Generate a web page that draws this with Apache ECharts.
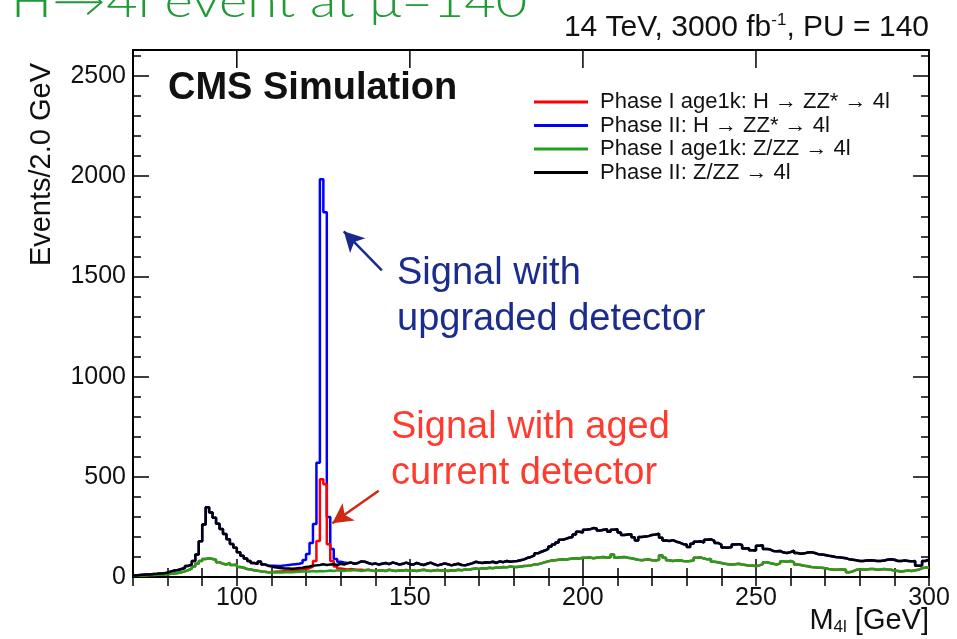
<!DOCTYPE html>
<html>
<head>
<meta charset="utf-8">
<script src="https://cdn.jsdelivr.net/npm/echarts@6/dist/echarts.min.js"></script>
<style>
  html, body { margin: 0; padding: 0; background: #fff; }
  #chart { width: 957px; height: 639px; }
</style>
</head>
<body>
<div id="chart"></div>
<script>
// ---- Data (1 GeV bins, lower edges 70..299 GeV) ----
const BIN_START = 70;
const BIN_WIDTH = 1;
const N_BINS = 230;

// Phase II: Z/ZZ -> 4l (black)
const phase2Bkg = [
  8, 10, 11, 12, 13, 15, 16, 18, 19, 21,
  28, 32, 35, 40, 45, 55, 63, 80, 112, 178,
  262, 348, 322, 296, 266, 240, 214, 188, 165, 146,
  124, 106, 92, 80, 70, 64, 76, 63, 56, 52,
  48, 46, 44, 42, 43, 41, 43, 45, 46, 50,
  52, 56, 58, 60, 64, 60, 62, 64, 60, 66,
  62, 68, 72, 66, 70, 78, 76, 70, 64, 68,
  62, 66, 70, 64, 72, 68, 62, 66, 72, 64,
  62, 70, 64, 60, 66, 72, 64, 58, 62, 68,
  64, 58, 62, 66, 60, 58, 64, 68, 76, 72,
  70, 74, 72, 76, 70, 78, 74, 80, 76, 78,
  80, 84, 88, 96, 100, 108, 118, 126, 132, 140,
  152, 162, 172, 186, 190, 196, 200, 212, 226, 222,
  236, 238, 244, 242, 232, 236, 238, 226, 236, 238,
  222, 210, 212, 214, 198, 182, 200, 202, 204, 210,
  212, 216, 196, 182, 180, 184, 176, 172, 164, 162,
  150, 166, 176, 178, 172, 186, 188, 180, 170, 162,
  147, 146, 150, 162, 164, 160, 142, 144, 134, 132,
  156, 158, 140, 138, 130, 128, 130, 122, 120, 124,
  132, 120, 116, 118, 122, 124, 120, 114, 112, 110,
  106, 104, 100, 98, 96, 94, 88, 86, 84, 80,
  80, 82, 84, 82, 80, 80, 82, 86, 88, 86,
  80, 80, 82, 80, 78, 80, 56, 58, 80, 86
];

// Phase II: H -> ZZ* -> 4l (blue, drawn on top of its background)
const phase2Sig = [
  8, 10, 11, 12, 13, 15, 16, 18, 19, 21,
  28, 32, 35, 40, 45, 55, 63, 80, 112, 178,
  262, 348, 322, 296, 266, 240, 214, 188, 165, 146,
  124, 106, 92, 80, 70, 66, 77, 64, 58, 56,
  56, 55, 56, 58, 60, 62, 64, 66, 70, 85,
  115, 170, 265, 570, 1985, 1820, 300, 140, 90, 76,
  72, 70, 72, 66, 70, 78, 76, 70, 64, 68,
  62, 66, 70, 64, 72, 68, 62, 66, 72, 64,
  62, 70, 64, 60, 66, 72, 64, 58, 62, 68,
  64, 58, 62, 66, 60, 58, 64, 68, 76, 72,
  70, 74, 72, 76, 70, 78, 74, 80, 76, 78,
  80, 84, 88, 96, 100, 108, 118, 126, 132, 140,
  152, 162, 172, 186, 190, 196, 200, 212, 226, 222,
  236, 238, 244, 242, 232, 236, 238, 226, 236, 238,
  222, 210, 212, 214, 198, 182, 200, 202, 204, 210,
  212, 216, 196, 182, 180, 184, 176, 172, 164, 162,
  150, 166, 176, 178, 172, 186, 188, 180, 170, 162,
  147, 146, 150, 162, 164, 160, 142, 144, 134, 132,
  156, 158, 140, 138, 130, 128, 130, 122, 120, 124,
  132, 120, 116, 118, 122, 124, 120, 114, 112, 110,
  106, 104, 100, 98, 96, 94, 88, 86, 84, 80,
  80, 82, 84, 82, 80, 80, 82, 86, 88, 86,
  80, 80, 82, 80, 78, 80, 56, 58, 80, 86
];

// Phase I age1k: Z/ZZ -> 4l (green)
const phase1Bkg = [
  6, 7, 8, 9, 10, 10, 11, 12, 13, 14,
  16, 18, 20, 24, 28, 34, 42, 52, 66, 80,
  90, 94, 90, 86, 74, 66, 62, 70, 60, 62,
  50, 46, 40, 37, 34, 31, 28, 26, 24, 23,
  22, 24, 22, 24, 25, 24, 25, 26, 27, 28,
  28, 30, 28, 30, 29, 30, 32, 30, 33, 32,
  30, 34, 32, 35, 33, 30, 34, 36, 32, 30,
  32, 34, 30, 36, 32, 30, 34, 32, 35, 30,
  32, 30, 34, 36, 32, 30, 33, 35, 32, 34,
  30, 34, 32, 36, 34, 38, 36, 40, 42, 40,
  44, 42, 46, 44, 48, 46, 50, 48, 52, 50,
  50, 52, 55, 56, 58, 62, 64, 68, 74, 78,
  82, 84, 86, 88, 86, 90, 92, 94, 92, 96,
  96, 98, 94, 96, 98, 100, 96, 98, 112, 96,
  98, 100, 96, 94, 90, 86, 84, 86, 88, 84,
  82, 86, 108, 96, 84, 80, 82, 84, 80, 78,
  80, 82, 96, 98, 92, 88, 90, 76, 74, 70,
  66, 64, 62, 64, 66, 62, 60, 56, 58, 54,
  58, 64, 74, 70, 66, 62, 68, 78, 76, 80,
  74, 62, 60, 56, 54, 50, 48, 46, 46, 44,
  40, 38, 36, 38, 38, 36, 24, 28, 36, 38,
  38, 38, 40, 40, 36, 38, 40, 38, 36, 32,
  30, 28, 30, 32, 30, 34, 36, 44, 48, 48
];

// Phase I age1k: H -> ZZ* -> 4l (red, drawn on top of its background)
const phase1Sig = [
  6, 7, 8, 9, 10, 10, 11, 12, 13, 14,
  16, 18, 20, 24, 28, 34, 42, 52, 66, 80,
  90, 94, 90, 86, 74, 66, 62, 70, 60, 62,
  50, 46, 40, 37, 34, 31, 28, 26, 24, 23,
  26, 28, 28, 30, 31, 32, 33, 35, 38, 40,
  44, 52, 80, 180, 488, 463, 163, 80, 52, 42,
  40, 38, 40, 38, 36, 36, 34, 36, 32, 30,
  32, 34, 30, 36, 32, 30, 34, 32, 35, 30,
  32, 30, 34, 36, 32, 30, 33, 35, 32, 34,
  30, 34, 32, 36, 34, 38, 36, 40, 42, 40,
  44, 42, 46, 44, 48, 46, 50, 48, 52, 50,
  50, 52, 55, 56, 58, 62, 64, 68, 74, 78,
  82, 84, 86, 88, 86, 90, 92, 94, 92, 96,
  96, 98, 94, 96, 98, 100, 96, 98, 112, 96,
  98, 100, 96, 94, 90, 86, 84, 86, 88, 84,
  82, 86, 108, 96, 84, 80, 82, 84, 80, 78,
  80, 82, 96, 98, 92, 88, 90, 76, 74, 70,
  66, 64, 62, 64, 66, 62, 60, 56, 58, 54,
  58, 64, 74, 70, 66, 62, 68, 78, 76, 80,
  74, 62, 60, 56, 54, 50, 48, 46, 46, 44,
  40, 38, 36, 38, 38, 36, 24, 28, 36, 38,
  38, 38, 40, 40, 36, 38, 40, 38, 36, 32,
  30, 28, 30, 32, 30, 34, 36, 44, 48, 48
];

const seriesNames = [
  'Phase I age1k: H \u2192 ZZ* \u2192 4l',
  'Phase II: H \u2192 ZZ* \u2192 4l',
  'Phase I age1k: Z/ZZ \u2192 4l',
  'Phase II: Z/ZZ \u2192 4l'
];

const xLabelValues = [100, 150, 200, 250, 300];
const yLabelValues = [0, 500, 1000, 1500, 2000, 2500];
const X_MIN = 70, X_MAX = 300, Y_MIN = 0, Y_MAX = 2630;

// bin lower edges
const binEdges = [];
for (let i = 0; i < N_BINS; i++) binEdges.push(BIN_START + i * BIN_WIDTH);

function toSteps(values) {
  const d = values.map((v, i) => [binEdges[i], v]);
  d.push([binEdges[N_BINS - 1] + BIN_WIDTH, values[values.length - 1]]);
  return d;
}

const FONT = 'Liberation Sans, Arial, Helvetica, sans-serif';
const INK = '#111';
const X_LONG = 18, X_SHORT = 9, Y_LONG = 16, Y_SHORT = 8;

function xAxisDef(position, longTicks, labels) {
  return {
    type: 'value', position: position, min: X_MIN, max: X_MAX, interval: 10,
    axisLine: { show: false }, splitLine: { show: false },
    axisTick: longTicks
      ? { show: true, inside: true, length: X_LONG, customValues: xLabelValues, lineStyle: { color: '#000', width: 1.5 } }
      : { show: true, inside: true, length: X_SHORT, lineStyle: { color: '#000', width: 1.5 } },
    axisLabel: labels
      ? { show: true, customValues: xLabelValues, margin: 9, fontSize: 25, fontFamily: FONT, color: INK,
          formatter: function (v) { return String(v); } }
      : { show: false }
  };
}
function yAxisDef(position, longTicks, labels) {
  return {
    type: 'value', position: position, min: Y_MIN, max: Y_MAX, interval: longTicks ? 500 : 100,
    axisLine: { show: false }, splitLine: { show: false },
    axisTick: longTicks
      ? { show: true, inside: true, length: Y_LONG, customValues: yLabelValues, lineStyle: { color: '#000', width: 1.5 } }
      : { show: true, inside: true, length: Y_SHORT, lineStyle: { color: '#000', width: 1.5 } },
    axisLabel: labels
      ? { show: true, customValues: yLabelValues, margin: 7, fontSize: 25, fontFamily: FONT, color: INK,
          formatter: function (v) { return String(v); } }
      : { show: false }
  };
}

function histSeries(name, values, color, z, extra) {
  return Object.assign({
    name: name, type: 'line', step: 'end', data: toSteps(values),
    symbol: 'none', showSymbol: false, xAxisIndex: 0, yAxisIndex: 0,
    lineStyle: { color: color, width: 2.5 }, itemStyle: { color: color },
    emphasis: { disabled: true }, z: z, animation: false
  }, extra || {});
}

const chart = echarts.init(document.getElementById('chart'), null, { renderer: 'canvas' });

const option = {
  backgroundColor: '#fff',
  animation: false,
  grid: { left: 133, right: 28, top: 50, bottom: 62, show: true, borderColor: '#000', borderWidth: 2, backgroundColor: 'transparent' },
  title: [
    {
      text: '{n|14 TeV, 3000 fb}{sup|-1}{n|, PU = 140}',
      right: 28, top: 12, padding: 0,
      textStyle: {
        fontWeight: 'normal',
        rich: {
          n: { fontSize: 30, fontWeight: 'normal', fontFamily: FONT, color: INK },
          sup: { fontSize: 17, fontWeight: 'normal', fontFamily: FONT, color: INK, padding: [0, 0, 15, 0] }
        }
      }
    },
    {
      text: 'CMS Simulation', left: 168, top: 70, padding: 0,
      textStyle: { fontSize: 38, fontWeight: 'bold', fontFamily: FONT, color: INK }
    }
  ],
  legend: {
    data: seriesNames.slice(),
    orient: 'vertical', left: 534, top: 91, padding: 0,
    icon: 'rect', itemWidth: 54, itemHeight: 3, itemGap: 1.5,
    selectedMode: false,
    textStyle: { fontSize: 22, lineHeight: 22, fontFamily: FONT, color: INK, padding: [0, 0, 0, 7] }
  },
  xAxis: [
    xAxisDef('bottom', false, true),
    xAxisDef('bottom', true, false),
    xAxisDef('top', false, false)
  ],
  yAxis: [
    yAxisDef('left', false, true),
    yAxisDef('left', true, false),
    yAxisDef('right', false, false),
    yAxisDef('right', true, false)
  ],
  series: [
    histSeries(seriesNames[1], phase2Sig, '#0000ff', 2, {
      markLine: {
        silent: true, symbol: ['none', 'arrow'], symbolSize: [16, 20], animation: false,
        label: { show: false },
        lineStyle: { color: '#1a2a8c', width: 2.5, type: 'solid' },
        data: [[{ coord: [141.9, 1530] }, { coord: [130.9, 1725] }]]
      }
    }),
    histSeries(seriesNames[0], phase1Sig, '#ff0000', 3, {
      markLine: {
        silent: true, symbol: ['none', 'arrow'], symbolSize: [16, 20], animation: false,
        label: { show: false },
        lineStyle: { color: '#cc2a12', width: 2.5, type: 'solid' },
        data: [[{ coord: [141.0, 430] }, { coord: [127.6, 268] }]]
      }
    }),
    histSeries(seriesNames[2], phase1Bkg, '#1fa01f', 4),
    histSeries(seriesNames[3], phase2Bkg, '#000000', 5),
    {
      // long ticks on the top frame edge at the labelled x values
      type: 'custom', name: 'topTicks', silent: true, clip: false, z: 6,
      xAxisIndex: 0, yAxisIndex: 0,
      data: xLabelValues.map(function (v) { return [v, Y_MAX]; }),
      renderItem: function (params, api) {
        const p = api.coord([api.value(0), api.value(1)]);
        return {
          type: 'line',
          shape: { x1: p[0], y1: p[1], x2: p[0], y2: p[1] + X_LONG },
          style: { stroke: '#000', lineWidth: 1.5 }
        };
      },
      animation: false
    }
  ],
  graphic: [
    {
      type: 'text', x: 11, y: -21, scaleX: 1.18, silent: true,
      style: { text: 'H\u21924l event at \u03bc=140', font: '300 46px Lato, sans-serif', fill: '#1f9a36' }
    },
    {
      type: 'text', silent: true, x: 27, y: 63, rotation: Math.PI / 2,
      style: { text: 'Events/2.0 GeV', font: '29px ' + FONT, fill: INK, align: 'right', verticalAlign: 'top' }
    },
    {
      type: 'text', silent: true, x: 929, y: 605,
      style: {
        text: '{n|M}{sub|4l}{n| [GeV]}', align: 'right', verticalAlign: 'top',
        rich: {
          n: { fontSize: 29, fontFamily: FONT, fill: INK },
          sub: { fontSize: 17, fontFamily: FONT, fill: INK, padding: [14, 0, 0, 0] }
        }
      }
    },
    {
      type: 'text', silent: true, x: 397, y: 251,
      style: { text: 'Signal with\nupgraded detector', font: '38px ' + FONT, lineHeight: 46, fill: '#1a2c8e' }
    },
    {
      type: 'text', silent: true, x: 391, y: 405,
      style: { text: 'Signal with aged\ncurrent detector', font: '38px ' + FONT, lineHeight: 46, fill: '#ff3b2f' }
    }
  ]
};

chart.setOption(option);
</script>
</body>
</html>
